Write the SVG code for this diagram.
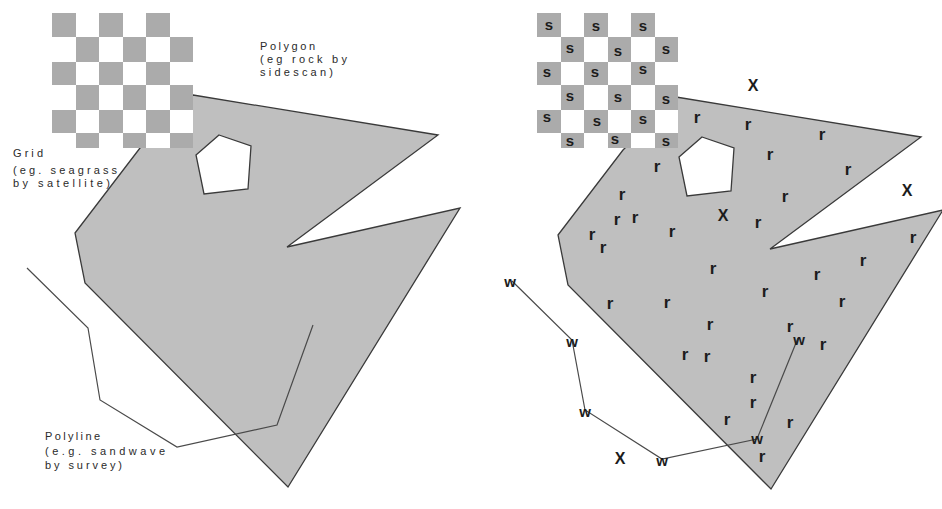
<svg xmlns="http://www.w3.org/2000/svg" width="942" height="509" viewBox="0 0 942 509">
<defs>
<style>
.poly{fill:#bfbfbf;stroke:#3a3a3a;stroke-width:1.3;stroke-linejoin:miter}
.hole{fill:#ffffff;stroke:#3a3a3a;stroke-width:1.3}
.pl{fill:none;stroke:#4a4a4a;stroke-width:1.2}
.g{fill:#ababab}
.lbl{font-family:"Liberation Sans",Arial,sans-serif;font-size:11px;fill:#2a2a2a}
.m{font-family:"Liberation Sans",Arial,sans-serif;font-weight:bold;fill:#1c1c1c;text-anchor:middle}
.r{font-size:17px}
.s{font-size:15px}
.x{font-size:16px}
.w{font-size:15px}
</style>
<g id="gridcells">
<rect x="0" y="0" width="141" height="135" fill="#ffffff"/>
<rect class="g" x="0" y="0" width="24" height="24"/>
<rect class="g" x="47" y="0" width="24" height="24"/>
<rect class="g" x="94" y="0" width="24" height="24"/>
<rect class="g" x="24" y="24" width="23" height="25"/>
<rect class="g" x="71" y="24" width="23" height="25"/>
<rect class="g" x="118" y="24" width="23" height="25"/>
<rect class="g" x="0" y="49" width="24" height="23"/>
<rect class="g" x="47" y="49" width="24" height="23"/>
<rect class="g" x="94" y="49" width="24" height="23"/>
<rect class="g" x="24" y="72" width="23" height="25"/>
<rect class="g" x="71" y="72" width="23" height="25"/>
<rect class="g" x="118" y="72" width="23" height="25"/>
<rect class="g" x="0" y="97" width="24" height="23"/>
<rect class="g" x="47" y="97" width="24" height="23"/>
<rect class="g" x="94" y="97" width="24" height="23"/>
<rect class="g" x="24" y="120" width="23" height="15"/>
<rect class="g" x="71" y="120" width="23" height="15"/>
<rect class="g" x="118" y="120" width="23" height="15"/>
</g>
<g id="shape">
<polygon class="poly" points="193,95 438,135 287,247 460,208 288,487 85,283 75,233 140,148"/>
<polygon class="hole" points="219,135 251,146 248,189 204,194 196,155"/>
</g>
</defs>

<!-- Left panel -->
<g id="left-polygon"><use href="#shape"/></g>
<g id="left-grid"><use href="#gridcells" transform="translate(52,13)"/></g>
<g id="left-polyline"><polyline class="pl" points="27,268 88,328 100,400 177,447 277,425 313,325"/></g>
<g id="label-polygon">
<text class="lbl" x="260" y="50" textLength="55" lengthAdjust="spacing">Polygon</text>
<text class="lbl" x="260" y="63" textLength="87" lengthAdjust="spacing">(eg rock by</text>
<text class="lbl" x="260" y="76" textLength="73" lengthAdjust="spacing">sidescan)</text>
</g>
<g id="label-grid">
<text class="lbl" x="13" y="157" textLength="30" lengthAdjust="spacing">Grid</text>
<text class="lbl" x="13" y="174" textLength="104" lengthAdjust="spacing">(eg. seagrass</text>
<text class="lbl" x="13" y="187" textLength="97" lengthAdjust="spacing">by satellite)</text>
</g>
<g id="label-polyline">
<text class="lbl" x="45" y="440" textLength="55" lengthAdjust="spacing">Polyline</text>
<text class="lbl" x="45" y="455" textLength="120" lengthAdjust="spacing">(e.g. sandwave</text>
<text class="lbl" x="45" y="469" textLength="77" lengthAdjust="spacing">by survey)</text>
</g>

<!-- Right panel -->
<g id="right-polygon"><use href="#shape" transform="translate(483,2)"/></g>
<g id="right-grid"><use href="#gridcells" transform="translate(537,13)"/></g>
<g id="right-s">
<text class="m s" x="549" y="30">s</text>
<text class="m s" x="596" y="31">s</text>
<text class="m s" x="643" y="31">s</text>
<text class="m s" x="570" y="53">s</text>
<text class="m s" x="618" y="56">s</text>
<text class="m s" x="666" y="54">s</text>
<text class="m s" x="547" y="77">s</text>
<text class="m s" x="595" y="77">s</text>
<text class="m s" x="643" y="74">s</text>
<text class="m s" x="570" y="101">s</text>
<text class="m s" x="618" y="102">s</text>
<text class="m s" x="666" y="104">s</text>
<text class="m s" x="547" y="122">s</text>
<text class="m s" x="597" y="126">s</text>
<text class="m s" x="643" y="124">s</text>
<text class="m s" x="570" y="146">s</text>
<text class="m s" x="615" y="144">s</text>
<text class="m s" x="666" y="146">s</text>
</g>
<g id="right-polyline"><polyline class="pl" points="512,281 572,340 585,410 662,459 757,439 798,338"/></g>
<g id="right-r">
<text class="m r" x="697" y="123">r</text>
<text class="m r" x="748" y="130">r</text>
<text class="m r" x="822" y="140">r</text>
<text class="m r" x="657" y="172">r</text>
<text class="m r" x="770" y="160">r</text>
<text class="m r" x="848" y="175">r</text>
<text class="m r" x="622" y="200">r</text>
<text class="m r" x="785" y="202">r</text>
<text class="m r" x="617" y="225">r</text>
<text class="m r" x="635" y="223">r</text>
<text class="m r" x="672" y="237">r</text>
<text class="m r" x="758" y="228">r</text>
<text class="m r" x="592" y="240">r</text>
<text class="m r" x="603" y="253">r</text>
<text class="m r" x="913" y="243">r</text>
<text class="m r" x="863" y="266">r</text>
<text class="m r" x="713" y="274">r</text>
<text class="m r" x="817" y="280">r</text>
<text class="m r" x="765" y="297">r</text>
<text class="m r" x="842" y="307">r</text>
<text class="m r" x="610" y="309">r</text>
<text class="m r" x="667" y="308">r</text>
<text class="m r" x="710" y="330">r</text>
<text class="m r" x="790" y="332">r</text>
<text class="m r" x="823" y="350">r</text>
<text class="m r" x="685" y="360">r</text>
<text class="m r" x="707" y="362">r</text>
<text class="m r" x="753" y="383">r</text>
<text class="m r" x="753" y="408">r</text>
<text class="m r" x="727" y="425">r</text>
<text class="m r" x="790" y="428">r</text>
<text class="m r" x="762" y="462">r</text>
</g>
<g id="right-x">
<text class="m x" x="753" y="91">X</text>
<text class="m x" x="907" y="196">X</text>
<text class="m x" x="723" y="221">X</text>
<text class="m x" x="620" y="464">X</text>
</g>
<g id="right-w">
<text class="m w" x="510" y="287">w</text>
<text class="m w" x="572" y="347">w</text>
<text class="m w" x="585" y="417">w</text>
<text class="m w" x="662" y="466">w</text>
<text class="m w" x="757" y="444">w</text>
<text class="m w" x="799" y="345">w</text>
</g>
</svg>
